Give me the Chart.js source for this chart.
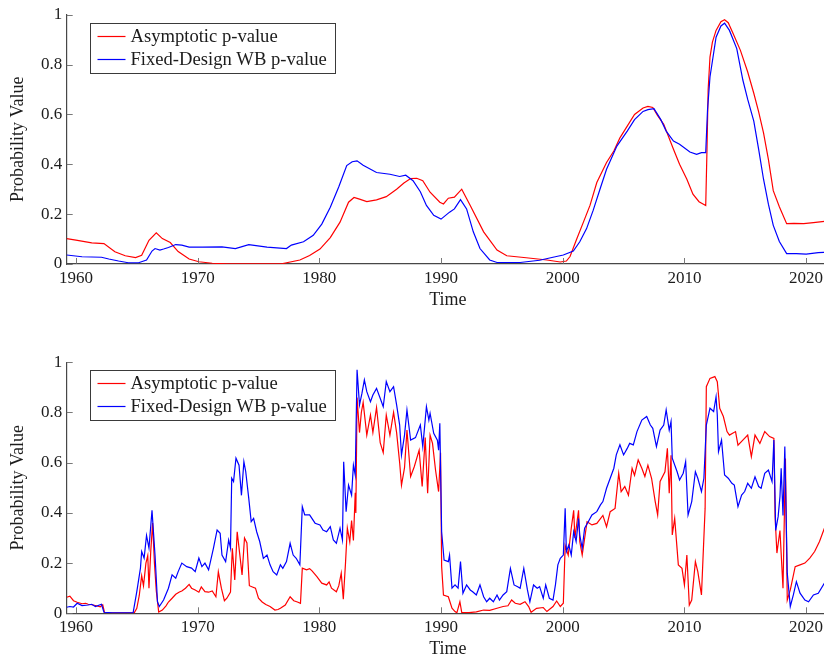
<!DOCTYPE html>
<html>
<head>
<meta charset="utf-8">
<script src="https://cdn.jsdelivr.net/npm/chart.js@4.4.1/dist/chart.umd.min.js"></script>
<style>
  html, body { margin: 0; padding: 0; background: #fff; }
  body { width: 824px; height: 661px; overflow: hidden; position: relative; }
  canvas { position: absolute; left: 0; }
  #pvTop { top: 0; }
  #pvBottom { top: 330px; }
</style>
</head>
<body>
<canvas id="pvTop" width="830" height="330"></canvas>
<canvas id="pvBottom" width="830" height="340"></canvas>
<script>
// ---- axis ticks ----
const xTickValues = [1960, 1970, 1980, 1990, 2000, 2010, 2020];
const xTickLabels = ['1960', '1970', '1980', '1990', '2000', '2010', '2020'];
const yTickValues = [0, 0.2, 0.4, 0.6, 0.8, 1];
const yTickLabels = ['0', '0.2', '0.4', '0.6', '0.8', '1'];

const seriesNames = ['Asymptotic p-value', 'Fixed-Design WB p-value'];

// ---- upper panel (smooth p-values) ----
const topYearsAsymptotic = [
  1959.24,1960.0,1961.3,1962.3,1963.2,1964.05,1964.9,1965.4,1966.0,1966.6,
  1967.1,1967.75,1968.4,1969.3,1970.1,1971.2,1972.5,1974.3,1977.0,1978.4,
  1979.2,1980.05,1980.9,1981.7,1982.4,1982.85,1983.3,1983.9,1984.7,1985.5,
  1986.35,1986.95,1987.5,1988.0,1988.5,1989.1,1989.9,1990.2,1990.6,1991.1,
  1991.7,1992.4,1993.5,1994.6,1995.4,1997.0,1998.7,1999.8,2000.3,2000.6,
  2001.15,2001.7,2002.24,2002.8,2003.6,2004.2,2004.7,2005.3,2005.9,2006.6,
  2007.0,2007.4,2007.8,2008.3,2009.1,2009.6,2010.2,2010.7,2011.2,2011.75,
  2011.85,2011.95,2012.1,2012.3,2012.6,2013.0,2013.3,2013.6,2014.0,2014.6,
  2015.2,2015.7,2016.1,2016.5,2016.9,2017.3,2017.8,2018.4,2019.0,2019.8,
  2020.6,2021.5,2021.9
];
const topAsymptotic = [
  0.102,0.096,0.085,0.082,0.049,0.033,0.026,0.035,0.095,0.125,
  0.102,0.086,0.05,0.02,0.009,0.003,0.001,0.001,0.002,0.016,
  0.034,0.06,0.106,0.168,0.248,0.267,0.26,0.25,0.257,0.27,
  0.30,0.325,0.343,0.344,0.334,0.288,0.248,0.241,0.264,0.268,
  0.30,0.235,0.129,0.056,0.033,0.025,0.016,0.008,0.012,0.03,
  0.10,0.168,0.235,0.327,0.407,0.453,0.506,0.553,0.60,0.626,
  0.632,0.628,0.595,0.56,0.46,0.40,0.34,0.28,0.25,0.235,
  0.45,0.70,0.83,0.89,0.937,0.972,0.98,0.968,0.925,0.857,
  0.77,0.685,0.61,0.526,0.42,0.294,0.23,0.162,0.163,0.162,
  0.166,0.171,0.173
];
const topYearsWB = [
  1959.24,1960.5,1962.1,1962.7,1963.5,1964.3,1965.15,1965.8,1966.25,1966.5,
  1966.9,1967.2,1967.6,1968.2,1968.7,1969.3,1970.4,1972.0,1973.1,1974.2,
  1975.7,1977.3,1977.7,1978.7,1979.5,1980.2,1980.9,1981.6,1982.25,1982.7,
  1983.1,1983.6,1984.7,1985.8,1986.6,1987.1,1987.7,1988.3,1988.8,1989.4,
  1990.0,1990.7,1991.1,1991.6,1992.1,1992.65,1993.2,1994.0,1994.6,1996.5,
  1998.1,1999.2,2000.05,2000.87,2001.4,2001.96,2002.5,2003.06,2003.6,2004.45,
  2005.3,2005.9,2006.6,2007.0,2007.5,2008.05,2008.5,2009.1,2009.6,2010.45,
  2011.0,2011.4,2011.75,2011.9,2012.1,2012.6,2013.0,2013.3,2013.7,2014.3,
  2014.8,2015.2,2015.7,2016.1,2016.5,2016.9,2017.3,2017.8,2018.4,2019.2,
  2020.0,2021.0,2021.9
];
const topWB = [
  0.036,0.029,0.027,0.02,0.012,0.005,0.005,0.016,0.052,0.062,
  0.056,0.06,0.066,0.078,0.076,0.068,0.068,0.069,0.062,0.078,
  0.068,0.062,0.076,0.089,0.115,0.16,0.228,0.31,0.395,0.41,
  0.414,0.396,0.367,0.36,0.351,0.356,0.334,0.29,0.235,0.195,
  0.18,0.208,0.221,0.258,0.221,0.129,0.062,0.016,0.006,0.006,
  0.015,0.027,0.036,0.052,0.089,0.142,0.215,0.30,0.38,0.473,
  0.533,0.579,0.612,0.619,0.623,0.58,0.533,0.493,0.48,0.449,
  0.44,0.447,0.447,0.62,0.75,0.91,0.955,0.966,0.937,0.864,
  0.738,0.66,0.573,0.46,0.34,0.24,0.155,0.09,0.042,0.042,
  0.04,0.046,0.048
];

// ---- lower panel (noisy p-values) ----
const bottomYearsAsymptotic = [
  1959.24,1959.5,1959.8,1960.1,1960.5,1960.8,1961.0,1961.3,1961.6,1962.0,
  1962.2,1962.35,1963.0,1964.0,1964.8,1965.0,1965.2,1965.4,1965.55,1965.75,
  1965.9,1966.0,1966.15,1966.3,1966.45,1966.6,1966.8,1967.1,1967.4,1967.6,
  1967.9,1968.2,1968.5,1968.7,1969.0,1969.3,1969.5,1969.8,1970.1,1970.3,
  1970.6,1970.9,1971.2,1971.5,1971.7,1971.95,1972.2,1972.4,1972.7,1972.85,
  1973.05,1973.25,1973.45,1973.65,1973.85,1974.05,1974.25,1974.5,1974.75,1975.0,
  1975.3,1975.6,1975.95,1976.35,1976.6,1976.8,1977.2,1977.6,1977.9,1978.2,
  1978.45,1978.6,1978.95,1979.2,1979.4,1979.8,1980.2,1980.6,1980.8,1981.0,
  1981.4,1981.6,1981.8,1981.97,1982.15,1982.3,1982.5,1982.65,1982.8,1982.95,
  1983.0,1983.1,1983.3,1983.45,1983.6,1983.9,1984.2,1984.4,1984.7,1985.0,
  1985.25,1985.5,1985.8,1986.1,1986.35,1986.6,1986.75,1987.0,1987.2,1987.5,
  1987.8,1988.2,1988.45,1988.7,1988.9,1989.1,1989.3,1989.55,1989.8,1989.96,
  1990.05,1990.2,1990.6,1990.9,1991.15,1991.3,1991.55,1991.7,1992.3,1992.9,
  1993.5,1994.0,1994.6,1995.1,1995.5,1995.8,1996.1,1996.5,1996.9,1997.2,
  1997.4,1997.85,1998.4,1998.7,1999.2,1999.5,1999.8,2000.05,2000.2,2000.45,
  2000.7,2000.9,2001.0,2001.3,2001.4,2001.6,2002.0,2002.4,2002.8,2003.3,
  2003.6,2003.9,2004.3,2004.6,2004.8,2005.1,2005.4,2005.7,2005.9,2006.2,
  2006.5,2006.75,2007.0,2007.3,2007.6,2007.8,2008.0,2008.4,2008.6,2008.75,
  2008.9,2009.0,2009.2,2009.5,2009.8,2010.0,2010.2,2010.4,2010.6,2010.9,
  2011.1,2011.4,2011.7,2011.8,2012.1,2012.5,2012.7,2012.9,2013.2,2013.5,
  2013.7,2014.2,2014.4,2014.8,2015.2,2015.5,2015.8,2016.2,2016.6,2017.0,
  2017.35,2017.45,2017.6,2017.85,2018.1,2018.3,2018.45,2018.7,2019.1,2019.5,
  2019.9,2020.3,2020.7,2021.1,2021.5,2021.85
];
const bottomAsymptotic = [
  0.064,0.068,0.05,0.044,0.038,0.04,0.036,0.034,0.031,0.026,
  0.034,0.003,0.002,0.002,0.003,0.02,0.07,0.15,0.11,0.20,
  0.23,0.10,0.25,0.36,0.20,0.09,0.005,0.013,0.03,0.045,
  0.06,0.076,0.085,0.089,0.10,0.115,0.10,0.093,0.084,0.105,
  0.086,0.084,0.089,0.066,0.165,0.10,0.05,0.06,0.085,0.259,
  0.133,0.325,0.24,0.153,0.30,0.28,0.11,0.105,0.10,0.06,
  0.045,0.035,0.027,0.013,0.015,0.02,0.033,0.066,0.05,0.045,
  0.04,0.18,0.173,0.178,0.169,0.146,0.12,0.113,0.125,0.10,
  0.086,0.11,0.16,0.056,0.2,0.34,0.285,0.37,0.29,0.48,
  0.40,0.86,0.72,0.80,0.84,0.71,0.79,0.72,0.82,0.68,
  0.64,0.79,0.71,0.80,0.72,0.60,0.51,0.58,0.73,0.545,
  0.584,0.65,0.505,0.70,0.478,0.71,0.677,0.57,0.485,0.64,
  0.186,0.073,0.066,0.02,0.007,0.002,0.046,0.004,0.003,0.006,
  0.013,0.012,0.02,0.027,0.03,0.053,0.04,0.036,0.046,0.027,
  0.004,0.02,0.023,0.007,0.027,0.049,0.027,0.04,0.27,0.232,
  0.339,0.41,0.30,0.41,0.286,0.232,0.365,0.352,0.358,0.39,
  0.345,0.405,0.418,0.558,0.485,0.505,0.47,0.578,0.55,0.611,
  0.578,0.545,0.59,0.538,0.445,0.392,0.525,0.564,0.657,0.478,
  0.63,0.312,0.378,0.193,0.179,0.113,0.232,0.033,0.053,0.206,
  0.166,0.073,0.418,0.903,0.936,0.943,0.923,0.817,0.784,0.724,
  0.71,0.724,0.67,0.69,0.71,0.624,0.71,0.677,0.724,0.704,
  0.697,0.385,0.24,0.33,0.10,0.617,0.053,0.093,0.186,0.193,
  0.20,0.22,0.246,0.286,0.339,0.36
];
const bottomYearsWB = [
  1959.24,1959.5,1959.8,1960.1,1960.5,1961.0,1961.3,1961.6,1962.1,1962.3,
  1963.0,1964.0,1964.7,1965.0,1965.3,1965.4,1965.6,1965.8,1966.0,1966.25,
  1966.5,1966.7,1966.85,1967.2,1967.6,1967.9,1968.2,1968.4,1968.7,1969.1,
  1969.5,1969.8,1970.1,1970.35,1970.6,1970.9,1971.3,1971.6,1971.85,1972.0,
  1972.3,1972.55,1972.7,1972.8,1972.95,1973.15,1973.4,1973.6,1973.8,1973.95,
  1974.2,1974.4,1974.6,1974.85,1975.1,1975.4,1975.7,1975.95,1976.2,1976.5,
  1976.8,1977.0,1977.3,1977.6,1977.85,1978.1,1978.4,1978.6,1978.8,1979.2,
  1979.65,1980.05,1980.3,1980.6,1980.9,1981.15,1981.4,1981.7,1981.9,1982.0,
  1982.2,1982.4,1982.65,1982.8,1982.95,1983.1,1983.3,1983.5,1983.7,1983.9,
  1984.2,1984.4,1984.7,1985.0,1985.25,1985.5,1985.8,1986.1,1986.35,1986.6,
  1986.75,1987.0,1987.2,1987.5,1987.9,1988.3,1988.5,1988.8,1989.0,1989.1,
  1989.4,1989.7,1989.8,1989.9,1990.05,1990.25,1990.6,1990.7,1990.9,1991.15,
  1991.4,1991.6,1991.8,1992.1,1992.4,1992.6,1992.9,1993.2,1993.5,1993.75,
  1994.0,1994.3,1994.6,1994.8,1995.1,1995.4,1995.7,1996.0,1996.3,1996.5,
  1996.8,1997.1,1997.3,1997.6,1997.9,1998.1,1998.4,1998.6,1998.9,1999.2,
  1999.4,1999.6,1999.8,2000.05,2000.2,2000.3,2000.5,2000.7,2000.9,2001.1,
  2001.3,2001.4,2001.6,2001.8,2002.1,2002.4,2002.8,2003.1,2003.3,2003.6,
  2003.9,2004.2,2004.4,2004.7,2005.0,2005.3,2005.5,2005.8,2006.1,2006.5,
  2006.9,2007.2,2007.4,2007.7,2008.0,2008.3,2008.5,2008.75,2008.9,2009.0,
  2009.4,2009.6,2009.9,2010.1,2010.3,2010.6,2010.9,2011.1,2011.4,2011.6,
  2011.8,2012.1,2012.4,2012.6,2012.7,2012.8,2013.05,2013.3,2013.6,2013.9,
  2014.1,2014.4,2014.7,2014.95,2015.2,2015.5,2015.8,2016.1,2016.3,2016.6,
  2016.9,2017.2,2017.35,2017.5,2017.7,2017.85,2017.95,2018.1,2018.25,2018.45,
  2018.7,2018.95,2019.2,2019.5,2019.9,2020.2,2020.6,2021.0,2021.5,2021.85
];
const bottomWB = [
  0.024,0.027,0.025,0.04,0.031,0.033,0.036,0.027,0.036,0.004,
  0.002,0.002,0.003,0.086,0.18,0.246,0.22,0.31,0.26,0.41,
  0.23,0.046,0.027,0.053,0.10,0.153,0.14,0.166,0.20,0.186,
  0.18,0.166,0.22,0.186,0.20,0.173,0.26,0.332,0.319,0.232,
  0.206,0.292,0.26,0.538,0.525,0.618,0.59,0.47,0.604,0.565,
  0.458,0.365,0.378,0.325,0.286,0.219,0.232,0.193,0.166,0.153,
  0.193,0.179,0.206,0.279,0.232,0.219,0.193,0.425,0.392,0.392,
  0.359,0.352,0.332,0.325,0.345,0.292,0.279,0.339,0.292,0.604,
  0.405,0.511,0.471,0.59,0.551,0.97,0.83,0.876,0.93,0.883,
  0.843,0.87,0.896,0.857,0.823,0.923,0.883,0.903,0.83,0.75,
  0.63,0.71,0.81,0.69,0.70,0.75,0.664,0.823,0.77,0.797,
  0.717,0.69,0.65,0.757,0.325,0.212,0.206,0.232,0.10,0.113,
  0.10,0.206,0.08,0.113,0.093,0.086,0.073,0.113,0.066,0.046,
  0.06,0.046,0.073,0.053,0.073,0.086,0.179,0.113,0.106,0.10,
  0.179,0.093,0.046,0.113,0.10,0.106,0.06,0.113,0.06,0.053,
  0.113,0.193,0.219,0.232,0.418,0.246,0.272,0.232,0.325,0.286,
  0.378,0.312,0.259,0.339,0.365,0.392,0.405,0.432,0.445,0.498,
  0.538,0.578,0.631,0.671,0.631,0.657,0.677,0.671,0.724,0.77,
  0.784,0.75,0.737,0.664,0.73,0.75,0.81,0.73,0.764,0.618,
  0.564,0.531,0.558,0.604,0.392,0.445,0.564,0.538,0.485,0.538,
  0.75,0.817,0.804,0.863,0.79,0.644,0.69,0.551,0.538,0.518,
  0.511,0.425,0.471,0.485,0.518,0.498,0.544,0.505,0.498,0.558,
  0.571,0.525,0.69,0.33,0.385,0.465,0.578,0.39,0.664,0.16,
  0.027,0.073,0.126,0.08,0.053,0.046,0.073,0.08,0.12,0.13
];

// ---- shared styling ----
const SERIF = '"Liberation Serif", "Times New Roman", serif';
const INK = '#1c1c1c';
const AXIS_INK = '#474747';
const X_MIN = 1959.24;
const X_MAX = 2021.88;

function toPoints(xs, ys) {
  return xs.map((x, i) => ({ x: x, y: ys[i] }));
}

// short tick marks pointing into the plot area, pgfplots style
const innerTicks = {
  id: 'innerTicks',
  afterDatasetsDraw(chart) {
    const { ctx, chartArea: a, scales: { x, y } } = chart;
    ctx.save();
    ctx.strokeStyle = '#6a6a6a';
    ctx.lineWidth = 0.9;
    ctx.beginPath();
    xTickValues.forEach(v => {
      const px = Math.round(x.getPixelForValue(v)) + 0.5;
      ctx.moveTo(px, a.bottom);
      ctx.lineTo(px, a.bottom - 6);
    });
    yTickValues.forEach(v => {
      const py = Math.round(y.getPixelForValue(v)) + 0.5;
      ctx.moveTo(a.left, py);
      ctx.lineTo(a.left + 6, py);
    });
    ctx.stroke();
    ctx.restore();
  }
};

// framed legend in the upper-left corner of the plot
const framedLegend = {
  id: 'framedLegend',
  afterDatasetsDraw(chart) {
    const { ctx, chartArea: a } = chart;
    const bx = Math.round(a.left + 23) + 0.5;
    const by = Math.round(a.top + 8) + 0.5;
    const bw = 245, bh = 50;
    ctx.save();
    ctx.fillStyle = '#ffffff';
    ctx.fillRect(bx, by, bw, bh);
    ctx.strokeStyle = '#3a3a3a';
    ctx.lineWidth = 1;
    ctx.strokeRect(bx, by, bw, bh);
    ctx.font = '18.6px ' + SERIF;
    ctx.textBaseline = 'middle';
    ctx.textAlign = 'left';
    chart.data.datasets.forEach((ds, i) => {
      const ry = by + 13 + i * 23;
      ctx.strokeStyle = ds.borderColor;
      ctx.lineWidth = 1.2;
      ctx.beginPath();
      ctx.moveTo(bx + 7, ry);
      ctx.lineTo(bx + 35, ry);
      ctx.stroke();
      ctx.fillStyle = INK;
      ctx.fillText(ds.label, bx + 40, ry + 1);
    });
    ctx.restore();
  }
};

function buildPanel(canvasId, asymX, asymY, wbX, wbY, plotTop, plotBottom) {
  const canvas = document.getElementById(canvasId);
  const H = canvas.height;
  const xAxisHeight = 50;
  return new Chart(canvas, {
    type: 'line',
    data: {
      datasets: [
        {
          label: seriesNames[0],
          data: toPoints(asymX, asymY),
          borderColor: '#ff0000',
          borderWidth: 1.2,
          pointRadius: 0,
          tension: 0,
          fill: false,
          order: 1
        },
        {
          label: seriesNames[1],
          data: toPoints(wbX, wbY),
          borderColor: '#0000ff',
          borderWidth: 1.2,
          pointRadius: 0,
          tension: 0,
          fill: false,
          order: 0
        }
      ]
    },
    options: {
      responsive: false,
      animation: false,
      devicePixelRatio: 1,
      layout: {
        padding: { top: plotTop, left: 0, right: 1, bottom: H - plotBottom - xAxisHeight }
      },
      plugins: {
        legend: { display: false },
        tooltip: { enabled: false }
      },
      scales: {
        x: {
          type: 'linear',
          min: X_MIN,
          max: X_MAX,
          afterBuildTicks: s => { s.ticks = xTickValues.map(v => ({ value: v })); },
          afterFit: s => { s.height = xAxisHeight; },
          grid: { display: false, drawTicks: false },
          border: { display: true, color: AXIS_INK, width: 1.2 },
          ticks: {
            padding: 4,
            autoSkip: false,
            maxRotation: 0,
            color: INK,
            font: { family: SERIF, size: 17 },
            callback: (v, i) => xTickLabels[i]
          },
          title: {
            display: true,
            text: 'Time',
            color: INK,
            font: { family: SERIF, size: 18 },
            padding: { top: 0, bottom: 3.2 }
          }
        },
        y: {
          type: 'linear',
          min: 0,
          max: 1,
          afterBuildTicks: s => { s.ticks = yTickValues.map(v => ({ value: v })); },
          afterFit: s => { s.width = 66.7; },
          grid: { display: false, drawTicks: false },
          border: { display: true, color: AXIS_INK, width: 1.2 },
          ticks: {
            padding: 4.5,
            color: INK,
            font: { family: SERIF, size: 17 },
            callback: (v, i) => yTickLabels[i]
          },
          title: {
            display: true,
            text: 'Probability Value',
            color: INK,
            font: { family: SERIF, size: 18 },
            padding: { top: 7.7, bottom: 0 }
          }
        }
      }
    },
    plugins: [innerTicks, framedLegend]
  });
}

buildPanel('pvTop', topYearsAsymptotic, topAsymptotic, topYearsWB, topWB, 12.7, 264);
buildPanel('pvBottom', bottomYearsAsymptotic, bottomAsymptotic, bottomYearsWB, bottomWB, 32.3, 283.3);
</script>
</body>
</html>
